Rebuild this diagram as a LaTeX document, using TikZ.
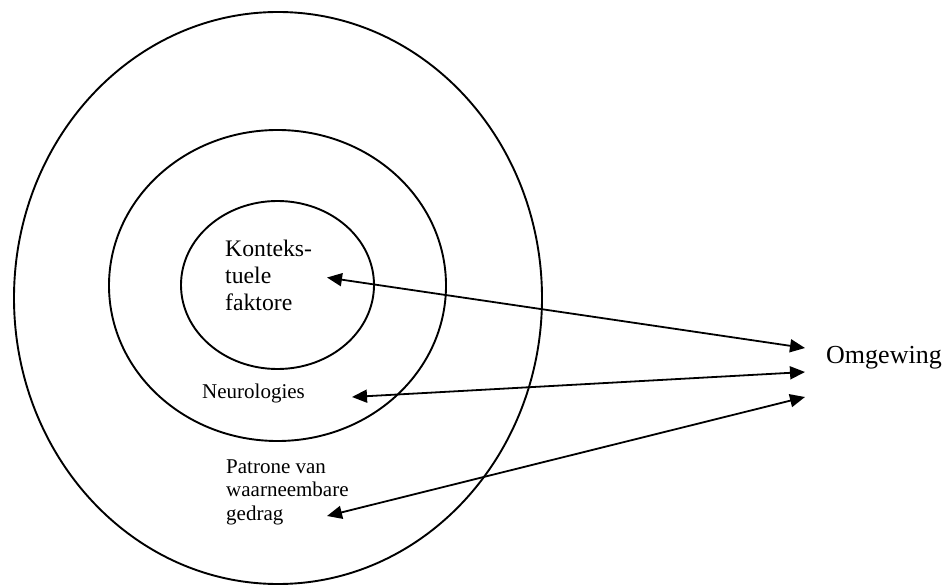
\documentclass[tikz,border=0pt]{standalone}
\usepackage{fontspec}
\setmainfont{Liberation Serif}
\usetikzlibrary{arrows.meta}
\tikzset{
  ring/.style={draw=black,line width=1.9pt},
  link/.style={line width=1.8pt,{Triangle[length=15pt,width=13pt]}-{Triangle[length=15pt,width=13pt]}},
  lbl/.style={inner sep=0pt,anchor=base west},
}
\begin{document}
\begin{tikzpicture}[x=1pt,y=-1pt]
\useasboundingbox (0,0) rectangle (944,585);
\fill[white] (0,0) rectangle (944,585);
% rings
\draw[ring] (278,298) ellipse [x radius=264, y radius=286];
\draw[ring] (277.5,285.5) ellipse [x radius=168.5, y radius=155.5];
\draw[ring] (277.5,285) ellipse [x radius=96.5, y radius=84];
% labels
\node[lbl] (kf) at (225,256) {\fontsize{23.7}{27}\selectfont\begin{tabular}[t]{@{}l@{}}Konteks-\\tuele\\faktore\end{tabular}};
\node[lbl] (neu) at (202,398) {\fontsize{21}{23.5}\selectfont Neurologies};
\node[lbl] (pat) at (226,473) {\fontsize{21}{23.5}\selectfont\begin{tabular}[t]{@{}l@{}}Patrone van\\waarneembare\\gedrag\end{tabular}};
\node[lbl] (om) at (826,363) {\fontsize{26}{30}\selectfont Omgewing};
% arrow ends
\coordinate (k1) at (327,277.5);
\coordinate (n1) at (352,397);
\coordinate (p1) at (327,516);
\coordinate (o1) at (805,348);
\coordinate (o2) at (805,372);
\coordinate (o3) at (805,397);
\draw[link] (k1) -- (o1);
\draw[link] (n1) -- (o2);
\draw[link] (p1) -- (o3);
\end{tikzpicture}
\end{document}
